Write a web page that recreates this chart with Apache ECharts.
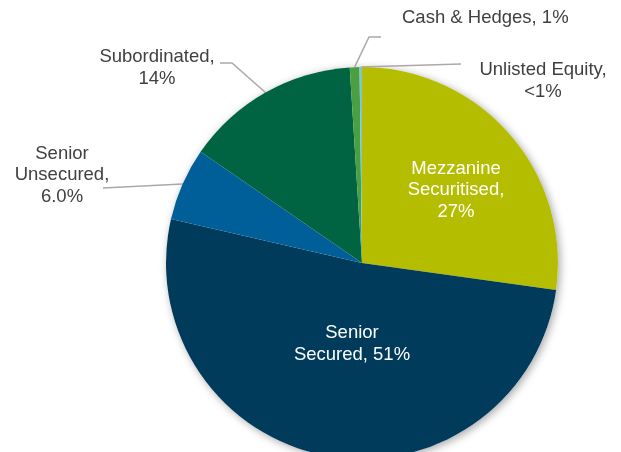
<!DOCTYPE html>
<html>
<head>
<meta charset="utf-8">
<script src="https://cdn.jsdelivr.net/npm/echarts@6/dist/echarts.min.js"></script>
<style>
  html, body { margin: 0; padding: 0; background: #ffffff; }
  #chart { width: 621px; height: 452px; }
</style>
</head>
<body>
<div id="chart"></div>
<script>
// Portfolio allocation by instrument type (% of total)
const categories = [
  'Mezzanine\nSecuritised',
  'Senior\nSecured',
  'Senior\nUnsecured',
  'Subordinated',
  'Cash & Hedges',
  'Unlisted Equity'
];
const shares = [27.2, 51.4, 6.0, 14.4, 0.8, 0.2];
const shareDecimals = [0, 0, 1, 0, 0, 0];
const sliceColors = ['#B5BD00', '#003B5C', '#005E98', '#006341', '#4AA040', '#7CC6D6'];

// Where each label sits and how its line breaks after the comma
const labelSpots = [
  { x: 456, y: 190, align: 'center', inside: true, sep: ',\n' },
  { x: 352, y: 344, align: 'center', inside: true, sep: ', ' },
  { x: 62,  y: 175, align: 'center', inside: false, sep: ',\n', bend: [[103, 188]] },
  { x: 157, y: 68,  align: 'center', inside: false, sep: ',\n', bend: [[232, 63], [220, 63]] },
  { x: 402, y: 18,  align: 'left',   inside: false, sep: ', ', bend: [[369, 37], [381, 37]] },
  { x: 543, y: 81,  align: 'center', inside: false, sep: ',\n', bend: [[461, 64]] }
];

function pctText(v, i) {
  if (v < 0.5) return '<1%';
  return v.toFixed(shareDecimals[i]) + '%';
}

const font = "'Liberation Sans', Arial, sans-serif";
const textGrey = '#404040';

const pieData = categories.map((name, i) => ({
  name: name,
  value: shares[i],
  itemStyle: { color: sliceColors[i] },
  label: {
    position: labelSpots[i].inside ? 'inside' : 'outside',
    color: labelSpots[i].inside ? '#ffffff' : textGrey
  },
  labelLine: { show: !labelSpots[i].inside }
}));

const chart = echarts.init(document.getElementById('chart'), null, { renderer: 'canvas' });

chart.setOption({
  backgroundColor: '#ffffff',
  animation: false,
  series: [
    {
      // soft drop shadow under the disc
      type: 'pie',
      z: 1,
      silent: true,
      center: [362, 263],
      radius: [0, 196],
      label: { show: false },
      labelLine: { show: false },
      data: [{ value: 1, itemStyle: {
        color: '#ffffff',
        shadowBlur: 9,
        shadowOffsetX: 2,
        shadowOffsetY: 2,
        shadowColor: 'rgba(0,0,0,0.35)'
      } }]
    },
    {
      type: 'pie',
      z: 2,
      center: [362, 263],
      radius: [0, 196],
      startAngle: 90,
      clockwise: true,
      avoidLabelOverlap: false,
      itemStyle: { borderWidth: 0 },
      label: {
        show: true,
        fontFamily: font,
        fontSize: 18.5,
        lineHeight: 21.5,
        align: 'center',
        formatter: p => p.name + labelSpots[p.dataIndex].sep + pctText(p.value, p.dataIndex)
      },
      labelLine: {
        show: true,
        smooth: false,
        lineStyle: { color: '#ADA7AA', width: 1.5 }
      },
      labelLayout: function (params) {
        const s = labelSpots[params.dataIndex];
        const out = { x: s.x, y: s.y, align: s.align, verticalAlign: 'middle' };
        if (!s.inside && params.labelLinePoints) {
          const start = params.labelLinePoints[0];
          out.labelLinePoints = [start].concat(s.bend);
        }
        return out;
      },
      data: pieData
    }
  ]
});
</script>
</body>
</html>
